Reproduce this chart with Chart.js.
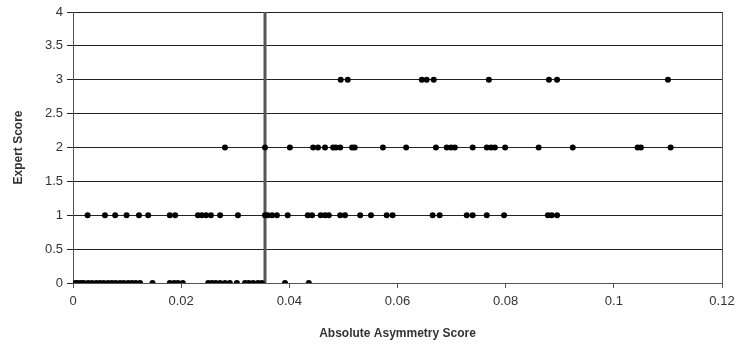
<!DOCTYPE html>
<html>
<head>
<meta charset="utf-8">
<script src="https://cdn.jsdelivr.net/npm/chart.js@4/dist/chart.umd.min.js"></script>
<style>
html,body{margin:0;padding:0;background:#fff;}
#wrap{width:737px;height:344px;}
</style>
</head>
<body>
<div id="wrap"><canvas id="c" width="737" height="344"></canvas></div>
<script>
// Absolute asymmetry scores grouped by expert score
const score0 = [0.0004,0.0009,0.0015,0.002,0.0028,0.0035,0.0043,0.005,0.0057,0.0065,0.0072,0.0079,0.0087,0.0094,0.0102,0.0109,0.0116,0.0124,0.0147,0.0179,0.0187,0.0194,0.0203,0.025,0.0257,0.0264,0.0272,0.0281,0.029,0.0303,0.0318,0.0325,0.0333,0.0342,0.0349,0.0392,0.0436];
const score1 = [0.0027,0.0059,0.0078,0.0099,0.0122,0.0139,0.0179,0.0189,0.0231,0.0238,0.0246,0.0255,0.0272,0.0305,0.0355,0.036,0.0368,0.0377,0.0397,0.0434,0.0442,0.0458,0.0466,0.0473,0.0494,0.0503,0.0531,0.0551,0.058,0.0591,0.0665,0.0678,0.0728,0.0739,0.0765,0.0797,0.0878,0.0885,0.0895];
const score2 = [0.0281,0.0355,0.0401,0.0444,0.0453,0.0466,0.0481,0.0486,0.0494,0.0516,0.0521,0.0573,0.0616,0.0671,0.0691,0.0699,0.0706,0.0739,0.0765,0.0773,0.078,0.0799,0.0861,0.0924,0.1044,0.105,0.1105];
const score3 = [0.0495,0.0508,0.0645,0.0654,0.0667,0.0769,0.088,0.0895,0.11];
const threshold = 0.0355;
const xTitle = "Absolute Asymmetry Score";
const yTitle = "Expert Score";

const pts = [];
[[score0,0],[score1,1],[score2,2],[score3,3]].forEach(([arr,y]) => arr.forEach(x => pts.push({x:x,y:y})));

const frame = {
  id:'frame',
  afterDraw(chart){
    const a = chart.chartArea, ctx = chart.ctx;
    ctx.save();
    ctx.strokeStyle = '#555';
    ctx.lineWidth = 1;
    ctx.beginPath();
    ctx.moveTo(Math.round(a.right)+0.5, a.top);
    ctx.lineTo(Math.round(a.right)+0.5, a.bottom);
    ctx.stroke();
    ctx.restore();
  }
};

new Chart(document.getElementById('c'), {
  type: 'scatter',
  data: {
    datasets: [
      {
        data: [{x:threshold,y:0},{x:threshold,y:4.06}],
        showLine: true,
        borderColor: '#555',
        borderWidth: 3,
        pointRadius: 0,
        order: 2
      },
      {
        data: pts,
        pointRadius: 3,
        pointBackgroundColor: '#000',
        pointBorderColor: '#000',
        pointBorderWidth: 0,
        order: 1
      }
    ]
  },
  options: {
    responsive: false,
    animation: false,
    devicePixelRatio: 1,
    layout: { padding: { top: 12, right: 0, left: 0, bottom: 0 } },
    plugins: { legend: { display: false }, tooltip: { enabled: false } },
    scales: {
      x: {
        type: 'linear', min: 0, max: 0.12,
        ticks: { stepSize: 0.02, color: '#333', font: { family: 'Liberation Sans, Arial', size: 13 }, padding: 6,
                 callback: v => String(Math.round(v*100)/100) },
        grid: { drawOnChartArea: false, drawTicks: true, tickLength: 5, color: '#555' },
        border: { display: true, color: '#555' },
        title: { display: true, text: xTitle, color: '#333', font: { family: 'Liberation Sans, Arial', size: 12, weight: 'bold' }, padding: { top: 10, bottom: 3 } },
        afterFit(s){ s.height = 61; s.paddingRight = 15; s.paddingLeft = 0; }
      },
      y: {
        type: 'linear', min: 0, max: 4,
        ticks: { stepSize: 0.5, color: '#333', font: { family: 'Liberation Sans, Arial', size: 13 }, padding: 4,
                 callback: v => String(Math.round(v*10)/10) },
        grid: { drawOnChartArea: true, drawTicks: true, tickLength: 6, color: '#222', lineWidth: 1 },
        border: { display: true, color: '#555' },
        title: { display: true, text: yTitle, color: '#333', font: { family: 'Liberation Sans, Arial', size: 12, weight: 'bold' }, padding: { top: 11, bottom: 4 } },
        afterFit(s){ s.width = 73; s.paddingTop = 0; s.paddingBottom = 0; }
      }
    }
  },
  plugins: [frame]
});
</script>
</body>
</html>
